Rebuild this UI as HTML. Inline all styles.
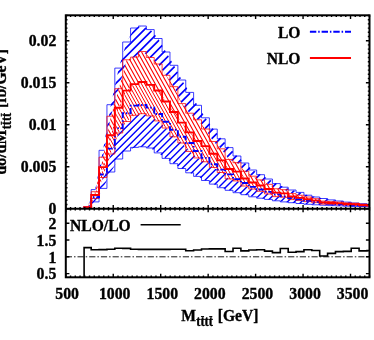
<!DOCTYPE html>
<html><head><meta charset="utf-8"><title>M tttt distribution</title>
<style>html,body{margin:0;padding:0;background:#fff;}svg{display:block;}text{font-family:"Liberation Serif",serif;font-weight:bold;fill:#000;stroke:#000;stroke-width:0.35px;}.tx{filter:grayscale(1);}</style></head><body>
<svg width="374" height="340" viewBox="0 0 374 340">
<rect x="0" y="0" width="374" height="340" fill="#fff"/>
<defs>
<clipPath id="cm"><rect x="65.8" y="15.3" width="303.7" height="193.4"/></clipPath>
<clipPath id="cr"><rect x="65.8" y="208.7" width="303.7" height="68.6"/></clipPath>
<clipPath id="cbl"><path d="M87.24 207.6 L95.12 197.3 L103 174.5 L110.88 148.6 L118.76 128.1 L126.64 113.2 L134.52 105.6 L142.4 105 L150.28 107.6 L158.16 114 L166.04 121.8 L173.92 129.7 L181.8 136.8 L189.68 143 L197.56 151 L205.44 157.9 L213.32 164.2 L221.2 169.6 L229.08 174.4 L236.96 179.1 L244.84 183 L252.72 186.9 L260.6 189.5 L268.48 191.9 L276.36 194.4 L284.24 196.4 L292.12 198 L300 199.3 L307.88 200.9 L315.76 201.9 L323.64 202.7 L331.52 203.5 L339.4 204.1 L347.28 204.7 L355.16 205.2 L363.04 205.6 L370.92 205.9 L370.92 206.8 L363.04 206.6 L355.16 206.4 L347.28 206.2 L339.4 205.9 L331.52 205.6 L323.64 205.2 L315.76 204.8 L307.88 204.3 L300 203.5 L292.12 202.7 L284.24 201.9 L276.36 200.8 L268.48 199.4 L260.6 198.2 L252.72 196.8 L244.84 194.7 L236.96 192.7 L229.08 190.3 L221.2 187.7 L213.32 184.1 L205.44 180.5 L197.56 176.4 L189.68 172.8 L181.8 168.5 L173.92 163.7 L166.04 158.4 L158.16 152.9 L150.28 148 L142.4 146.8 L134.52 147.4 L126.64 151 L118.76 159 L110.88 172 L103 188.4 L95.12 201.9 L87.24 207.8 Z"/></clipPath>
<clipPath id="cbu"><path d="M87.24 207.3 L95.12 189.6 L103 150.3 L110.88 104.7 L118.76 68.1 L126.64 42 L134.52 28 L142.4 26 L150.28 29.6 L158.16 38.5 L166.04 52 L173.92 65.3 L181.8 80 L189.68 92.4 L197.56 105.3 L205.44 117.8 L213.32 129.1 L221.2 138.8 L229.08 147.6 L236.96 156 L244.84 163 L252.72 170 L260.6 174.7 L268.48 179 L276.36 183.6 L284.24 187.2 L292.12 190 L300 192.4 L307.88 195.2 L315.76 197 L323.64 198.5 L331.52 199.9 L339.4 201 L347.28 202.1 L355.16 203 L363.04 203.7 L370.92 204.3 L370.92 205.9 L363.04 205.6 L355.16 205.2 L347.28 204.7 L339.4 204.1 L331.52 203.5 L323.64 202.7 L315.76 201.9 L307.88 200.9 L300 199.3 L292.12 198 L284.24 196.4 L276.36 194.4 L268.48 191.9 L260.6 189.5 L252.72 186.9 L244.84 183 L236.96 179.1 L229.08 174.4 L221.2 169.6 L213.32 164.2 L205.44 157.9 L197.56 151 L189.68 143 L181.8 136.8 L173.92 129.7 L166.04 121.8 L158.16 114 L150.28 107.6 L142.4 105 L134.52 105.6 L126.64 113.2 L118.76 128.1 L110.88 148.6 L103 174.5 L95.12 197.3 L87.24 207.6 Z"/></clipPath>
<clipPath id="cnl"><path d="M87.24 207.3 L95.12 195 L103 167.17 L110.88 135.3 L118.76 107.71 L126.64 90.6 L134.52 84.1 L142.4 82 L150.28 84.9 L158.16 90.5 L166.04 101.5 L173.92 112 L181.8 122.6 L189.68 132.4 L197.56 141 L205.44 146.11 L213.32 153.74 L221.2 160.41 L229.08 168.99 L236.96 171.61 L244.84 178.49 L252.72 182.49 L260.6 185.5 L268.48 189.05 L276.36 192.61 L284.24 193.36 L292.12 196.54 L300 197.85 L307.88 199.28 L315.76 200.62 L323.64 202.56 L331.52 202.97 L339.4 203.39 L347.28 204.06 L355.16 204.3 L363.04 205.06 L370.92 205.38 L370.92 206.21 L363.04 205.97 L355.16 205.4 L347.28 205.22 L339.4 204.72 L331.52 204.41 L323.64 204.09 L315.76 202.64 L307.88 201.63 L300 200.56 L292.12 199.58 L284.24 197.2 L276.36 196.63 L268.48 193.96 L260.6 191.3 L252.72 189.04 L244.84 186.04 L236.96 180.88 L229.08 178.92 L221.2 172.48 L213.32 167.48 L205.44 161.76 L197.56 157.93 L189.68 151.47 L181.8 143 L173.92 136.8 L166.04 128 L158.16 120.9 L150.28 115.85 L142.4 113.67 L134.52 115.3 L126.64 121.5 L118.76 133 L110.88 154 L103 177.55 L95.12 198.43 L87.24 207.65 Z"/></clipPath>
<clipPath id="cnu"><path d="M87.24 206.96 L95.12 191.71 L103 157.2 L110.88 116.2 L118.76 88.7 L126.64 59.8 L134.52 57.1 L142.4 51.5 L150.28 57.5 L158.16 64 L166.04 75.3 L173.92 86.7 L181.8 103.6 L189.68 113.2 L197.56 119.8 L205.44 129 L213.32 141.5 L221.2 148.82 L229.08 159.46 L236.96 162.71 L244.84 171.24 L252.72 176.2 L260.6 179.93 L268.48 184.33 L276.36 188.75 L284.24 189.68 L292.12 193.62 L300 195.24 L307.88 197.01 L315.76 198.69 L323.64 201.08 L331.52 201.6 L339.4 202.11 L347.28 202.94 L355.16 203.25 L363.04 204.18 L370.92 204.59 L370.92 205.38 L363.04 205.06 L355.16 204.3 L347.28 204.06 L339.4 203.39 L331.52 202.97 L323.64 202.56 L315.76 200.62 L307.88 199.28 L300 197.85 L292.12 196.54 L284.24 193.36 L276.36 192.61 L268.48 189.05 L260.6 185.5 L252.72 182.49 L244.84 178.49 L236.96 171.61 L229.08 168.99 L221.2 160.41 L213.32 153.74 L205.44 146.11 L197.56 141 L189.68 132.4 L181.8 122.6 L173.92 112 L166.04 101.5 L158.16 90.5 L150.28 84.9 L142.4 82 L134.52 84.1 L126.64 90.6 L118.76 107.71 L110.88 135.3 L103 167.17 L95.12 195 L87.24 207.3 Z"/></clipPath>
</defs>
<g clip-path="url(#cm)">
<g clip-path="url(#cbl)" stroke="#0000ff" stroke-width="1.4" fill="none"><path d="M52.68 13.3 L-144.72 210.7 M59.62 13.3 L-137.78 210.7 M66.56 13.3 L-130.84 210.7 M73.5 13.3 L-123.9 210.7 M80.44 13.3 L-116.96 210.7 M87.38 13.3 L-110.02 210.7 M94.32 13.3 L-103.08 210.7 M101.26 13.3 L-96.14 210.7 M108.2 13.3 L-89.2 210.7 M115.14 13.3 L-82.26 210.7 M122.08 13.3 L-75.32 210.7 M129.02 13.3 L-68.38 210.7 M135.96 13.3 L-61.44 210.7 M142.9 13.3 L-54.5 210.7 M149.84 13.3 L-47.56 210.7 M156.78 13.3 L-40.62 210.7 M163.72 13.3 L-33.68 210.7 M170.66 13.3 L-26.74 210.7 M177.6 13.3 L-19.8 210.7 M184.54 13.3 L-12.86 210.7 M191.48 13.3 L-5.92 210.7 M198.42 13.3 L1.02 210.7 M205.36 13.3 L7.96 210.7 M212.3 13.3 L14.9 210.7 M219.24 13.3 L21.84 210.7 M226.18 13.3 L28.78 210.7 M233.12 13.3 L35.72 210.7 M240.06 13.3 L42.66 210.7 M247 13.3 L49.6 210.7 M253.94 13.3 L56.54 210.7 M260.88 13.3 L63.48 210.7 M267.82 13.3 L70.42 210.7 M274.76 13.3 L77.36 210.7 M281.7 13.3 L84.3 210.7 M288.64 13.3 L91.24 210.7 M295.58 13.3 L98.18 210.7 M302.52 13.3 L105.12 210.7 M309.46 13.3 L112.06 210.7 M316.4 13.3 L119 210.7 M323.34 13.3 L125.94 210.7 M330.28 13.3 L132.88 210.7 M337.22 13.3 L139.82 210.7 M344.16 13.3 L146.76 210.7 M351.1 13.3 L153.7 210.7 M358.04 13.3 L160.64 210.7 M364.98 13.3 L167.58 210.7 M371.92 13.3 L174.52 210.7 M378.86 13.3 L181.46 210.7 M385.8 13.3 L188.4 210.7 M392.74 13.3 L195.34 210.7 M399.68 13.3 L202.28 210.7 M406.62 13.3 L209.22 210.7 M413.56 13.3 L216.16 210.7 M420.5 13.3 L223.1 210.7 M427.44 13.3 L230.04 210.7 M434.38 13.3 L236.98 210.7 M441.32 13.3 L243.92 210.7 M448.26 13.3 L250.86 210.7 M455.2 13.3 L257.8 210.7 M462.14 13.3 L264.74 210.7 M469.08 13.3 L271.68 210.7 M476.02 13.3 L278.62 210.7 M482.96 13.3 L285.56 210.7 M489.9 13.3 L292.5 210.7 M496.84 13.3 L299.44 210.7 M503.78 13.3 L306.38 210.7 M510.72 13.3 L313.32 210.7 M517.66 13.3 L320.26 210.7 M524.6 13.3 L327.2 210.7 M531.54 13.3 L334.14 210.7 M538.48 13.3 L341.08 210.7 M545.42 13.3 L348.02 210.7 M552.36 13.3 L354.96 210.7 M559.3 13.3 L361.9 210.7 M566.24 13.3 L368.84 210.7 M573.18 13.3 L375.78 210.7 M580.12 13.3 L382.72 210.7"/></g>
<g clip-path="url(#cbu)" stroke="#0000ff" stroke-width="1.7" fill="none"><path d="M51.5 13.3 L-145.9 210.7 M59.9 13.3 L-137.5 210.7 M68.3 13.3 L-129.1 210.7 M76.7 13.3 L-120.7 210.7 M85.1 13.3 L-112.3 210.7 M93.5 13.3 L-103.9 210.7 M101.9 13.3 L-95.5 210.7 M110.3 13.3 L-87.1 210.7 M118.7 13.3 L-78.7 210.7 M127.1 13.3 L-70.3 210.7 M135.5 13.3 L-61.9 210.7 M143.9 13.3 L-53.5 210.7 M152.3 13.3 L-45.1 210.7 M160.7 13.3 L-36.7 210.7 M169.1 13.3 L-28.3 210.7 M177.5 13.3 L-19.9 210.7 M185.9 13.3 L-11.5 210.7 M194.3 13.3 L-3.1 210.7 M202.7 13.3 L5.3 210.7 M211.1 13.3 L13.7 210.7 M219.5 13.3 L22.1 210.7 M227.9 13.3 L30.5 210.7 M236.3 13.3 L38.9 210.7 M244.7 13.3 L47.3 210.7 M253.1 13.3 L55.7 210.7 M261.5 13.3 L64.1 210.7 M269.9 13.3 L72.5 210.7 M278.3 13.3 L80.9 210.7 M286.7 13.3 L89.3 210.7 M295.1 13.3 L97.7 210.7 M303.5 13.3 L106.1 210.7 M311.9 13.3 L114.5 210.7 M320.3 13.3 L122.9 210.7 M328.7 13.3 L131.3 210.7 M337.1 13.3 L139.7 210.7 M345.5 13.3 L148.1 210.7 M353.9 13.3 L156.5 210.7 M362.3 13.3 L164.9 210.7 M370.7 13.3 L173.3 210.7 M379.1 13.3 L181.7 210.7 M387.5 13.3 L190.1 210.7 M395.9 13.3 L198.5 210.7 M404.3 13.3 L206.9 210.7 M412.7 13.3 L215.3 210.7 M421.1 13.3 L223.7 210.7 M429.5 13.3 L232.1 210.7 M437.9 13.3 L240.5 210.7 M446.3 13.3 L248.9 210.7 M454.7 13.3 L257.3 210.7 M463.1 13.3 L265.7 210.7 M471.5 13.3 L274.1 210.7 M479.9 13.3 L282.5 210.7 M488.3 13.3 L290.9 210.7 M496.7 13.3 L299.3 210.7 M505.1 13.3 L307.7 210.7 M513.5 13.3 L316.1 210.7 M521.9 13.3 L324.5 210.7 M530.3 13.3 L332.9 210.7 M538.7 13.3 L341.3 210.7 M547.1 13.3 L349.7 210.7 M555.5 13.3 L358.1 210.7 M563.9 13.3 L366.5 210.7 M572.3 13.3 L374.9 210.7 M580.7 13.3 L383.3 210.7"/></g>
<path d="M83.3 207.3 L91.18 207.3 L91.18 189.6 L99.06 189.6 L99.06 150.3 L106.94 150.3 L106.94 104.7 L114.82 104.7 L114.82 68.1 L122.7 68.1 L122.7 42 L130.58 42 L130.58 28 L138.46 28 L138.46 26 L146.34 26 L146.34 29.6 L154.22 29.6 L154.22 38.5 L162.1 38.5 L162.1 52 L169.98 52 L169.98 65.3 L177.86 65.3 L177.86 80 L185.74 80 L185.74 92.4 L193.62 92.4 L193.62 105.3 L201.5 105.3 L201.5 117.8 L209.38 117.8 L209.38 129.1 L217.26 129.1 L217.26 138.8 L225.14 138.8 L225.14 147.6 L233.02 147.6 L233.02 156 L240.9 156 L240.9 163 L248.78 163 L248.78 170 L256.66 170 L256.66 174.7 L264.54 174.7 L264.54 179 L272.42 179 L272.42 183.6 L280.3 183.6 L280.3 187.2 L288.18 187.2 L288.18 190 L296.06 190 L296.06 192.4 L303.94 192.4 L303.94 195.2 L311.82 195.2 L311.82 197 L319.7 197 L319.7 198.5 L327.58 198.5 L327.58 199.9 L335.46 199.9 L335.46 201 L343.34 201 L343.34 202.1 L351.22 202.1 L351.22 203 L359.1 203 L359.1 203.7 L366.98 203.7 L366.98 204.3 L369.5 204.3 M83.3 207.8 L91.18 207.8 L91.18 201.9 L99.06 201.9 L99.06 188.4 L106.94 188.4 L106.94 172 L114.82 172 L114.82 159 L122.7 159 L122.7 151 L130.58 151 L130.58 147.4 L138.46 147.4 L138.46 146.8 L146.34 146.8 L146.34 148 L154.22 148 L154.22 152.9 L162.1 152.9 L162.1 158.4 L169.98 158.4 L169.98 163.7 L177.86 163.7 L177.86 168.5 L185.74 168.5 L185.74 172.8 L193.62 172.8 L193.62 176.4 L201.5 176.4 L201.5 180.5 L209.38 180.5 L209.38 184.1 L217.26 184.1 L217.26 187.7 L225.14 187.7 L225.14 190.3 L233.02 190.3 L233.02 192.7 L240.9 192.7 L240.9 194.7 L248.78 194.7 L248.78 196.8 L256.66 196.8 L256.66 198.2 L264.54 198.2 L264.54 199.4 L272.42 199.4 L272.42 200.8 L280.3 200.8 L280.3 201.9 L288.18 201.9 L288.18 202.7 L296.06 202.7 L296.06 203.5 L303.94 203.5 L303.94 204.3 L311.82 204.3 L311.82 204.8 L319.7 204.8 L319.7 205.2 L327.58 205.2 L327.58 205.6 L335.46 205.6 L335.46 205.9 L343.34 205.9 L343.34 206.2 L351.22 206.2 L351.22 206.4 L359.1 206.4 L359.1 206.6 L366.98 206.6 L366.98 206.8 L369.5 206.8" fill="none" stroke="#0000ff" stroke-width="0.9" stroke-opacity="0.85"/>
<path d="M87.24 206.96 L95.12 191.71 L103 157.2 L110.88 116.2 L118.76 88.7 L126.64 59.8 L134.52 57.1 L142.4 51.5 L150.28 57.5 L158.16 64 L166.04 75.3 L173.92 86.7 L181.8 103.6 L189.68 113.2 L197.56 119.8 L205.44 129 L213.32 141.5 L221.2 148.82 L229.08 159.46 L236.96 162.71 L244.84 171.24 L252.72 176.2 L260.6 179.93 L268.48 184.33 L276.36 188.75 L284.24 189.68 L292.12 193.62 L300 195.24 L307.88 197.01 L315.76 198.69 L323.64 201.08 L331.52 201.6 L339.4 202.11 L347.28 202.94 L355.16 203.25 L363.04 204.18 L370.92 204.59 L370.92 206.21 L363.04 205.97 L355.16 205.4 L347.28 205.22 L339.4 204.72 L331.52 204.41 L323.64 204.09 L315.76 202.64 L307.88 201.63 L300 200.56 L292.12 199.58 L284.24 197.2 L276.36 196.63 L268.48 193.96 L260.6 191.3 L252.72 189.04 L244.84 186.04 L236.96 180.88 L229.08 178.92 L221.2 172.48 L213.32 167.48 L205.44 161.76 L197.56 157.93 L189.68 151.47 L181.8 143 L173.92 136.8 L166.04 128 L158.16 120.9 L150.28 115.85 L142.4 113.67 L134.52 115.3 L126.64 121.5 L118.76 133 L110.88 154 L103 177.55 L95.12 198.43 L87.24 207.65 Z" fill="#fff"/>
<g clip-path="url(#cnl)" stroke="#ff0000" stroke-width="1.0" fill="none"><path d="M-47.62 13.3 L61.8 210.7 M-44.36 13.3 L65.06 210.7 M-41.1 13.3 L68.32 210.7 M-37.84 13.3 L71.58 210.7 M-34.58 13.3 L74.84 210.7 M-31.32 13.3 L78.1 210.7 M-28.06 13.3 L81.36 210.7 M-24.8 13.3 L84.62 210.7 M-21.54 13.3 L87.88 210.7 M-18.28 13.3 L91.14 210.7 M-15.02 13.3 L94.4 210.7 M-11.76 13.3 L97.66 210.7 M-8.5 13.3 L100.92 210.7 M-5.24 13.3 L104.18 210.7 M-1.98 13.3 L107.44 210.7 M1.28 13.3 L110.7 210.7 M4.54 13.3 L113.96 210.7 M7.8 13.3 L117.22 210.7 M11.06 13.3 L120.48 210.7 M14.32 13.3 L123.74 210.7 M17.58 13.3 L127 210.7 M20.84 13.3 L130.26 210.7 M24.1 13.3 L133.52 210.7 M27.36 13.3 L136.78 210.7 M30.62 13.3 L140.04 210.7 M33.88 13.3 L143.3 210.7 M37.14 13.3 L146.56 210.7 M40.4 13.3 L149.82 210.7 M43.66 13.3 L153.08 210.7 M46.92 13.3 L156.34 210.7 M50.18 13.3 L159.6 210.7 M53.44 13.3 L162.86 210.7 M56.7 13.3 L166.12 210.7 M59.96 13.3 L169.38 210.7 M63.22 13.3 L172.64 210.7 M66.48 13.3 L175.9 210.7 M69.74 13.3 L179.16 210.7 M73 13.3 L182.42 210.7 M76.26 13.3 L185.68 210.7 M79.52 13.3 L188.94 210.7 M82.78 13.3 L192.2 210.7 M86.04 13.3 L195.46 210.7 M89.3 13.3 L198.72 210.7 M92.56 13.3 L201.98 210.7 M95.82 13.3 L205.24 210.7 M99.08 13.3 L208.5 210.7 M102.34 13.3 L211.76 210.7 M105.6 13.3 L215.02 210.7 M108.86 13.3 L218.28 210.7 M112.12 13.3 L221.54 210.7 M115.38 13.3 L224.8 210.7 M118.64 13.3 L228.06 210.7 M121.9 13.3 L231.32 210.7 M125.16 13.3 L234.58 210.7 M128.42 13.3 L237.84 210.7 M131.68 13.3 L241.1 210.7 M134.94 13.3 L244.36 210.7 M138.2 13.3 L247.62 210.7 M141.46 13.3 L250.88 210.7 M144.72 13.3 L254.14 210.7 M147.98 13.3 L257.4 210.7 M151.24 13.3 L260.66 210.7 M154.5 13.3 L263.92 210.7 M157.76 13.3 L267.18 210.7 M161.02 13.3 L270.44 210.7 M164.28 13.3 L273.7 210.7 M167.54 13.3 L276.96 210.7 M170.8 13.3 L280.22 210.7 M174.06 13.3 L283.48 210.7 M177.32 13.3 L286.74 210.7 M180.58 13.3 L290 210.7 M183.84 13.3 L293.26 210.7 M187.1 13.3 L296.52 210.7 M190.36 13.3 L299.78 210.7 M193.62 13.3 L303.04 210.7 M196.88 13.3 L306.3 210.7 M200.14 13.3 L309.56 210.7 M203.4 13.3 L312.82 210.7 M206.66 13.3 L316.08 210.7 M209.92 13.3 L319.34 210.7 M213.18 13.3 L322.6 210.7 M216.44 13.3 L325.86 210.7 M219.7 13.3 L329.12 210.7 M222.96 13.3 L332.38 210.7 M226.22 13.3 L335.64 210.7 M229.48 13.3 L338.9 210.7 M232.74 13.3 L342.16 210.7 M236 13.3 L345.42 210.7 M239.26 13.3 L348.68 210.7 M242.52 13.3 L351.94 210.7 M245.78 13.3 L355.2 210.7 M249.04 13.3 L358.46 210.7 M252.3 13.3 L361.72 210.7 M255.56 13.3 L364.98 210.7 M258.82 13.3 L368.24 210.7 M262.08 13.3 L371.5 210.7 M265.34 13.3 L374.76 210.7 M268.6 13.3 L378.02 210.7 M271.86 13.3 L381.28 210.7 M275.12 13.3 L384.54 210.7 M278.38 13.3 L387.8 210.7 M281.64 13.3 L391.06 210.7 M284.9 13.3 L394.32 210.7 M288.16 13.3 L397.58 210.7 M291.42 13.3 L400.84 210.7 M294.68 13.3 L404.1 210.7 M297.94 13.3 L407.36 210.7 M301.2 13.3 L410.62 210.7 M304.46 13.3 L413.88 210.7 M307.72 13.3 L417.14 210.7 M310.98 13.3 L420.4 210.7 M314.24 13.3 L423.66 210.7 M317.5 13.3 L426.92 210.7 M320.76 13.3 L430.18 210.7 M324.02 13.3 L433.44 210.7 M327.28 13.3 L436.7 210.7 M330.54 13.3 L439.96 210.7 M333.8 13.3 L443.22 210.7 M337.06 13.3 L446.48 210.7 M340.32 13.3 L449.74 210.7 M343.58 13.3 L453 210.7 M346.84 13.3 L456.26 210.7 M350.1 13.3 L459.52 210.7 M353.36 13.3 L462.78 210.7 M356.62 13.3 L466.04 210.7 M359.88 13.3 L469.3 210.7 M363.14 13.3 L472.56 210.7 M366.4 13.3 L475.82 210.7 M369.66 13.3 L479.08 210.7 M372.92 13.3 L482.34 210.7"/></g>
<g clip-path="url(#cnu)" stroke="#ff0000" stroke-width="1.1" fill="none"><path d="M-48.7 13.3 L60.72 210.7 M-44.68 13.3 L64.74 210.7 M-40.66 13.3 L68.76 210.7 M-36.64 13.3 L72.78 210.7 M-32.62 13.3 L76.8 210.7 M-28.6 13.3 L80.82 210.7 M-24.58 13.3 L84.84 210.7 M-20.56 13.3 L88.86 210.7 M-16.54 13.3 L92.88 210.7 M-12.52 13.3 L96.9 210.7 M-8.5 13.3 L100.92 210.7 M-4.48 13.3 L104.94 210.7 M-0.46 13.3 L108.96 210.7 M3.56 13.3 L112.98 210.7 M7.58 13.3 L117 210.7 M11.6 13.3 L121.02 210.7 M15.62 13.3 L125.04 210.7 M19.64 13.3 L129.06 210.7 M23.66 13.3 L133.08 210.7 M27.68 13.3 L137.1 210.7 M31.7 13.3 L141.12 210.7 M35.72 13.3 L145.14 210.7 M39.74 13.3 L149.16 210.7 M43.76 13.3 L153.18 210.7 M47.78 13.3 L157.2 210.7 M51.8 13.3 L161.22 210.7 M55.82 13.3 L165.24 210.7 M59.84 13.3 L169.26 210.7 M63.86 13.3 L173.28 210.7 M67.88 13.3 L177.3 210.7 M71.9 13.3 L181.32 210.7 M75.92 13.3 L185.34 210.7 M79.94 13.3 L189.36 210.7 M83.96 13.3 L193.38 210.7 M87.98 13.3 L197.4 210.7 M92 13.3 L201.42 210.7 M96.02 13.3 L205.44 210.7 M100.04 13.3 L209.46 210.7 M104.06 13.3 L213.48 210.7 M108.08 13.3 L217.5 210.7 M112.1 13.3 L221.52 210.7 M116.12 13.3 L225.54 210.7 M120.14 13.3 L229.56 210.7 M124.16 13.3 L233.58 210.7 M128.18 13.3 L237.6 210.7 M132.2 13.3 L241.62 210.7 M136.22 13.3 L245.64 210.7 M140.24 13.3 L249.66 210.7 M144.26 13.3 L253.68 210.7 M148.28 13.3 L257.7 210.7 M152.3 13.3 L261.72 210.7 M156.32 13.3 L265.74 210.7 M160.34 13.3 L269.76 210.7 M164.36 13.3 L273.78 210.7 M168.38 13.3 L277.8 210.7 M172.4 13.3 L281.82 210.7 M176.42 13.3 L285.84 210.7 M180.44 13.3 L289.86 210.7 M184.46 13.3 L293.88 210.7 M188.48 13.3 L297.9 210.7 M192.5 13.3 L301.92 210.7 M196.52 13.3 L305.94 210.7 M200.54 13.3 L309.96 210.7 M204.56 13.3 L313.98 210.7 M208.58 13.3 L318 210.7 M212.6 13.3 L322.02 210.7 M216.62 13.3 L326.04 210.7 M220.64 13.3 L330.06 210.7 M224.66 13.3 L334.08 210.7 M228.68 13.3 L338.1 210.7 M232.7 13.3 L342.12 210.7 M236.72 13.3 L346.14 210.7 M240.74 13.3 L350.16 210.7 M244.76 13.3 L354.18 210.7 M248.78 13.3 L358.2 210.7 M252.8 13.3 L362.22 210.7 M256.82 13.3 L366.24 210.7 M260.84 13.3 L370.26 210.7 M264.86 13.3 L374.28 210.7 M268.88 13.3 L378.3 210.7 M272.9 13.3 L382.32 210.7 M276.92 13.3 L386.34 210.7 M280.94 13.3 L390.36 210.7 M284.96 13.3 L394.38 210.7 M288.98 13.3 L398.4 210.7 M293 13.3 L402.42 210.7 M297.02 13.3 L406.44 210.7 M301.04 13.3 L410.46 210.7 M305.06 13.3 L414.48 210.7 M309.08 13.3 L418.5 210.7 M313.1 13.3 L422.52 210.7 M317.12 13.3 L426.54 210.7 M321.14 13.3 L430.56 210.7 M325.16 13.3 L434.58 210.7 M329.18 13.3 L438.6 210.7 M333.2 13.3 L442.62 210.7 M337.22 13.3 L446.64 210.7 M341.24 13.3 L450.66 210.7 M345.26 13.3 L454.68 210.7 M349.28 13.3 L458.7 210.7 M353.3 13.3 L462.72 210.7 M357.32 13.3 L466.74 210.7 M361.34 13.3 L470.76 210.7 M365.36 13.3 L474.78 210.7 M369.38 13.3 L478.8 210.7 M373.4 13.3 L482.82 210.7 M377.42 13.3 L486.84 210.7"/></g>
<path d="M83.3 206.96 L91.18 206.96 L91.18 191.71 L99.06 191.71 L99.06 157.2 L106.94 157.2 L106.94 116.2 L114.82 116.2 L114.82 88.7 L122.7 88.7 L122.7 59.8 L130.58 59.8 L130.58 57.1 L138.46 57.1 L138.46 51.5 L146.34 51.5 L146.34 57.5 L154.22 57.5 L154.22 64 L162.1 64 L162.1 75.3 L169.98 75.3 L169.98 86.7 L177.86 86.7 L177.86 103.6 L185.74 103.6 L185.74 113.2 L193.62 113.2 L193.62 119.8 L201.5 119.8 L201.5 129 L209.38 129 L209.38 141.5 L217.26 141.5 L217.26 148.82 L225.14 148.82 L225.14 159.46 L233.02 159.46 L233.02 162.71 L240.9 162.71 L240.9 171.24 L248.78 171.24 L248.78 176.2 L256.66 176.2 L256.66 179.93 L264.54 179.93 L264.54 184.33 L272.42 184.33 L272.42 188.75 L280.3 188.75 L280.3 189.68 L288.18 189.68 L288.18 193.62 L296.06 193.62 L296.06 195.24 L303.94 195.24 L303.94 197.01 L311.82 197.01 L311.82 198.69 L319.7 198.69 L319.7 201.08 L327.58 201.08 L327.58 201.6 L335.46 201.6 L335.46 202.11 L343.34 202.11 L343.34 202.94 L351.22 202.94 L351.22 203.25 L359.1 203.25 L359.1 204.18 L366.98 204.18 L366.98 204.59 L369.5 204.59 M83.3 207.65 L91.18 207.65 L91.18 198.43 L99.06 198.43 L99.06 177.55 L106.94 177.55 L106.94 154 L114.82 154 L114.82 133 L122.7 133 L122.7 121.5 L130.58 121.5 L130.58 115.3 L138.46 115.3 L138.46 113.67 L146.34 113.67 L146.34 115.85 L154.22 115.85 L154.22 120.9 L162.1 120.9 L162.1 128 L169.98 128 L169.98 136.8 L177.86 136.8 L177.86 143 L185.74 143 L185.74 151.47 L193.62 151.47 L193.62 157.93 L201.5 157.93 L201.5 161.76 L209.38 161.76 L209.38 167.48 L217.26 167.48 L217.26 172.48 L225.14 172.48 L225.14 178.92 L233.02 178.92 L233.02 180.88 L240.9 180.88 L240.9 186.04 L248.78 186.04 L248.78 189.04 L256.66 189.04 L256.66 191.3 L264.54 191.3 L264.54 193.96 L272.42 193.96 L272.42 196.63 L280.3 196.63 L280.3 197.2 L288.18 197.2 L288.18 199.58 L296.06 199.58 L296.06 200.56 L303.94 200.56 L303.94 201.63 L311.82 201.63 L311.82 202.64 L319.7 202.64 L319.7 204.09 L327.58 204.09 L327.58 204.41 L335.46 204.41 L335.46 204.72 L343.34 204.72 L343.34 205.22 L351.22 205.22 L351.22 205.4 L359.1 205.4 L359.1 205.97 L366.98 205.97 L366.98 206.21 L369.5 206.21" fill="none" stroke="#ff0000" stroke-width="0.9" stroke-opacity="0.85"/>
<path d="M83.3 207.6 L91.18 207.6 L91.18 197.3 L99.06 197.3 L99.06 174.5 L106.94 174.5 L106.94 148.6 L114.82 148.6 L114.82 128.1 L122.7 128.1 L122.7 113.2 L130.58 113.2 L130.58 105.6 L138.46 105.6 L138.46 105 L146.34 105 L146.34 107.6 L154.22 107.6 L154.22 114 L162.1 114 L162.1 121.8 L169.98 121.8 L169.98 129.7 L177.86 129.7 L177.86 136.8 L185.74 136.8 L185.74 143 L193.62 143 L193.62 151 L201.5 151 L201.5 157.9 L209.38 157.9 L209.38 164.2 L217.26 164.2 L217.26 169.6 L225.14 169.6 L225.14 174.4 L233.02 174.4 L233.02 179.1 L240.9 179.1 L240.9 183 L248.78 183 L248.78 186.9 L256.66 186.9 L256.66 189.5 L264.54 189.5 L264.54 191.9 L272.42 191.9 L272.42 194.4 L280.3 194.4 L280.3 196.4 L288.18 196.4 L288.18 198 L296.06 198 L296.06 199.3 L303.94 199.3 L303.94 200.9 L311.82 200.9 L311.82 201.9 L319.7 201.9 L319.7 202.7 L327.58 202.7 L327.58 203.5 L335.46 203.5 L335.46 204.1 L343.34 204.1 L343.34 204.7 L351.22 204.7 L351.22 205.2 L359.1 205.2 L359.1 205.6 L366.98 205.6 L366.98 205.9 L369.5 205.9" fill="none" stroke="#0000ff" stroke-width="1.9" stroke-dasharray="6.4 1.9 1.5 1.9"/>
<path d="M83.3 207.3 L91.18 207.3 L91.18 195 L99.06 195 L99.06 167.17 L106.94 167.17 L106.94 135.3 L114.82 135.3 L114.82 107.71 L122.7 107.71 L122.7 90.6 L130.58 90.6 L130.58 84.1 L138.46 84.1 L138.46 82 L146.34 82 L146.34 84.9 L154.22 84.9 L154.22 90.5 L162.1 90.5 L162.1 101.5 L169.98 101.5 L169.98 112 L177.86 112 L177.86 122.6 L185.74 122.6 L185.74 132.4 L193.62 132.4 L193.62 141 L201.5 141 L201.5 146.11 L209.38 146.11 L209.38 153.74 L217.26 153.74 L217.26 160.41 L225.14 160.41 L225.14 168.99 L233.02 168.99 L233.02 171.61 L240.9 171.61 L240.9 178.49 L248.78 178.49 L248.78 182.49 L256.66 182.49 L256.66 185.5 L264.54 185.5 L264.54 189.05 L272.42 189.05 L272.42 192.61 L280.3 192.61 L280.3 193.36 L288.18 193.36 L288.18 196.54 L296.06 196.54 L296.06 197.85 L303.94 197.85 L303.94 199.28 L311.82 199.28 L311.82 200.62 L319.7 200.62 L319.7 202.56 L327.58 202.56 L327.58 202.97 L335.46 202.97 L335.46 203.39 L343.34 203.39 L343.34 204.06 L351.22 204.06 L351.22 204.3 L359.1 204.3 L359.1 205.06 L366.98 205.06 L366.98 205.38 L369.5 205.38" fill="none" stroke="#ff0000" stroke-width="1.9" stroke-linejoin="miter"/>
</g>
<g clip-path="url(#cr)">
<path d="M65.8 256.8 L369.5 256.8" stroke="#000" stroke-width="0.9" stroke-dasharray="6.2 2 1.5 2" fill="none"/>
<path d="M84.1 277.3 L84.1 247.6 L91.18 247.6 L91.18 249.7 L99.06 249.7 L99.06 249.6 L106.94 249.6 L106.94 249.3 L114.82 249.3 L114.82 248.3 L122.7 248.3 L122.7 248.4 L130.58 248.4 L130.58 249.3 L138.46 249.3 L138.46 249.4 L146.34 249.4 L146.34 249.4 L154.22 249.4 L154.22 249.4 L162.1 249.4 L162.1 249.4 L169.98 249.4 L169.98 249.3 L177.86 249.3 L177.86 249.3 L185.74 249.3 L185.74 250.7 L193.62 250.7 L193.62 250 L201.5 250 L201.5 249 L209.38 249 L209.38 248.9 L217.26 248.9 L217.26 248.9 L225.14 248.9 L225.14 251.5 L233.02 251.5 L233.02 248.3 L240.9 248.3 L240.9 250.9 L248.78 250.9 L248.78 250 L256.66 250 L256.66 249.8 L264.54 249.8 L264.54 251.1 L272.42 251.1 L272.42 252.6 L280.3 252.6 L280.3 248.5 L288.18 248.5 L288.18 252.2 L296.06 252.2 L296.06 251.6 L303.94 251.6 L303.94 249.8 L311.82 249.8 L311.82 250.5 L319.7 250.5 L319.7 256 L327.58 256 L327.58 253.4 L335.46 253.4 L335.46 251.6 L343.34 251.6 L343.34 251.4 L351.22 251.4 L351.22 248.2 L359.1 248.2 L359.1 250.9 L366.98 250.9 L366.98 250.6 L369.5 250.6" fill="none" stroke="#000" stroke-width="1.6" stroke-linejoin="miter"/>
</g>
<g stroke="#000" fill="none">
<rect x="65.8" y="15.3" width="303.7" height="262" stroke-width="2"/>
<path d="M65.8 208.7 L369.5 208.7" stroke-width="2"/>
<path d="M65.8 15.3 v3.6 M65.8 208.7 v-3.6 M65.8 208.7 v3.6 M65.8 277.3 v-3.6 M70.55 15.3 v1.7 M70.55 208.7 v-1.7 M70.55 208.7 v1.7 M70.55 277.3 v-1.7 M75.29 15.3 v1.7 M75.29 208.7 v-1.7 M75.29 208.7 v1.7 M75.29 277.3 v-1.7 M80.04 15.3 v1.7 M80.04 208.7 v-1.7 M80.04 208.7 v1.7 M80.04 277.3 v-1.7 M84.78 15.3 v1.7 M84.78 208.7 v-1.7 M84.78 208.7 v1.7 M84.78 277.3 v-1.7 M89.53 15.3 v1.7 M89.53 208.7 v-1.7 M89.53 208.7 v1.7 M89.53 277.3 v-1.7 M94.27 15.3 v1.7 M94.27 208.7 v-1.7 M94.27 208.7 v1.7 M94.27 277.3 v-1.7 M99.02 15.3 v1.7 M99.02 208.7 v-1.7 M99.02 208.7 v1.7 M99.02 277.3 v-1.7 M103.76 15.3 v1.7 M103.76 208.7 v-1.7 M103.76 208.7 v1.7 M103.76 277.3 v-1.7 M108.51 15.3 v1.7 M108.51 208.7 v-1.7 M108.51 208.7 v1.7 M108.51 277.3 v-1.7 M113.25 15.3 v3.6 M113.25 208.7 v-3.6 M113.25 208.7 v3.6 M113.25 277.3 v-3.6 M118 15.3 v1.7 M118 208.7 v-1.7 M118 208.7 v1.7 M118 277.3 v-1.7 M122.74 15.3 v1.7 M122.74 208.7 v-1.7 M122.74 208.7 v1.7 M122.74 277.3 v-1.7 M127.49 15.3 v1.7 M127.49 208.7 v-1.7 M127.49 208.7 v1.7 M127.49 277.3 v-1.7 M132.23 15.3 v1.7 M132.23 208.7 v-1.7 M132.23 208.7 v1.7 M132.23 277.3 v-1.7 M136.98 15.3 v1.7 M136.98 208.7 v-1.7 M136.98 208.7 v1.7 M136.98 277.3 v-1.7 M141.72 15.3 v1.7 M141.72 208.7 v-1.7 M141.72 208.7 v1.7 M141.72 277.3 v-1.7 M146.47 15.3 v1.7 M146.47 208.7 v-1.7 M146.47 208.7 v1.7 M146.47 277.3 v-1.7 M151.22 15.3 v1.7 M151.22 208.7 v-1.7 M151.22 208.7 v1.7 M151.22 277.3 v-1.7 M155.96 15.3 v1.7 M155.96 208.7 v-1.7 M155.96 208.7 v1.7 M155.96 277.3 v-1.7 M160.71 15.3 v3.6 M160.71 208.7 v-3.6 M160.71 208.7 v3.6 M160.71 277.3 v-3.6 M165.45 15.3 v1.7 M165.45 208.7 v-1.7 M165.45 208.7 v1.7 M165.45 277.3 v-1.7 M170.2 15.3 v1.7 M170.2 208.7 v-1.7 M170.2 208.7 v1.7 M170.2 277.3 v-1.7 M174.94 15.3 v1.7 M174.94 208.7 v-1.7 M174.94 208.7 v1.7 M174.94 277.3 v-1.7 M179.69 15.3 v1.7 M179.69 208.7 v-1.7 M179.69 208.7 v1.7 M179.69 277.3 v-1.7 M184.43 15.3 v1.7 M184.43 208.7 v-1.7 M184.43 208.7 v1.7 M184.43 277.3 v-1.7 M189.18 15.3 v1.7 M189.18 208.7 v-1.7 M189.18 208.7 v1.7 M189.18 277.3 v-1.7 M193.92 15.3 v1.7 M193.92 208.7 v-1.7 M193.92 208.7 v1.7 M193.92 277.3 v-1.7 M198.67 15.3 v1.7 M198.67 208.7 v-1.7 M198.67 208.7 v1.7 M198.67 277.3 v-1.7 M203.41 15.3 v1.7 M203.41 208.7 v-1.7 M203.41 208.7 v1.7 M203.41 277.3 v-1.7 M208.16 15.3 v3.6 M208.16 208.7 v-3.6 M208.16 208.7 v3.6 M208.16 277.3 v-3.6 M212.9 15.3 v1.7 M212.9 208.7 v-1.7 M212.9 208.7 v1.7 M212.9 277.3 v-1.7 M217.65 15.3 v1.7 M217.65 208.7 v-1.7 M217.65 208.7 v1.7 M217.65 277.3 v-1.7 M222.4 15.3 v1.7 M222.4 208.7 v-1.7 M222.4 208.7 v1.7 M222.4 277.3 v-1.7 M227.14 15.3 v1.7 M227.14 208.7 v-1.7 M227.14 208.7 v1.7 M227.14 277.3 v-1.7 M231.89 15.3 v1.7 M231.89 208.7 v-1.7 M231.89 208.7 v1.7 M231.89 277.3 v-1.7 M236.63 15.3 v1.7 M236.63 208.7 v-1.7 M236.63 208.7 v1.7 M236.63 277.3 v-1.7 M241.38 15.3 v1.7 M241.38 208.7 v-1.7 M241.38 208.7 v1.7 M241.38 277.3 v-1.7 M246.12 15.3 v1.7 M246.12 208.7 v-1.7 M246.12 208.7 v1.7 M246.12 277.3 v-1.7 M250.87 15.3 v1.7 M250.87 208.7 v-1.7 M250.87 208.7 v1.7 M250.87 277.3 v-1.7 M255.61 15.3 v3.6 M255.61 208.7 v-3.6 M255.61 208.7 v3.6 M255.61 277.3 v-3.6 M260.36 15.3 v1.7 M260.36 208.7 v-1.7 M260.36 208.7 v1.7 M260.36 277.3 v-1.7 M265.1 15.3 v1.7 M265.1 208.7 v-1.7 M265.1 208.7 v1.7 M265.1 277.3 v-1.7 M269.85 15.3 v1.7 M269.85 208.7 v-1.7 M269.85 208.7 v1.7 M269.85 277.3 v-1.7 M274.59 15.3 v1.7 M274.59 208.7 v-1.7 M274.59 208.7 v1.7 M274.59 277.3 v-1.7 M279.34 15.3 v1.7 M279.34 208.7 v-1.7 M279.34 208.7 v1.7 M279.34 277.3 v-1.7 M284.08 15.3 v1.7 M284.08 208.7 v-1.7 M284.08 208.7 v1.7 M284.08 277.3 v-1.7 M288.83 15.3 v1.7 M288.83 208.7 v-1.7 M288.83 208.7 v1.7 M288.83 277.3 v-1.7 M293.57 15.3 v1.7 M293.57 208.7 v-1.7 M293.57 208.7 v1.7 M293.57 277.3 v-1.7 M298.32 15.3 v1.7 M298.32 208.7 v-1.7 M298.32 208.7 v1.7 M298.32 277.3 v-1.7 M303.07 15.3 v3.6 M303.07 208.7 v-3.6 M303.07 208.7 v3.6 M303.07 277.3 v-3.6 M307.81 15.3 v1.7 M307.81 208.7 v-1.7 M307.81 208.7 v1.7 M307.81 277.3 v-1.7 M312.56 15.3 v1.7 M312.56 208.7 v-1.7 M312.56 208.7 v1.7 M312.56 277.3 v-1.7 M317.3 15.3 v1.7 M317.3 208.7 v-1.7 M317.3 208.7 v1.7 M317.3 277.3 v-1.7 M322.05 15.3 v1.7 M322.05 208.7 v-1.7 M322.05 208.7 v1.7 M322.05 277.3 v-1.7 M326.79 15.3 v1.7 M326.79 208.7 v-1.7 M326.79 208.7 v1.7 M326.79 277.3 v-1.7 M331.54 15.3 v1.7 M331.54 208.7 v-1.7 M331.54 208.7 v1.7 M331.54 277.3 v-1.7 M336.28 15.3 v1.7 M336.28 208.7 v-1.7 M336.28 208.7 v1.7 M336.28 277.3 v-1.7 M341.03 15.3 v1.7 M341.03 208.7 v-1.7 M341.03 208.7 v1.7 M341.03 277.3 v-1.7 M345.77 15.3 v1.7 M345.77 208.7 v-1.7 M345.77 208.7 v1.7 M345.77 277.3 v-1.7 M350.52 15.3 v3.6 M350.52 208.7 v-3.6 M350.52 208.7 v3.6 M350.52 277.3 v-3.6 M355.26 15.3 v1.7 M355.26 208.7 v-1.7 M355.26 208.7 v1.7 M355.26 277.3 v-1.7 M360.01 15.3 v1.7 M360.01 208.7 v-1.7 M360.01 208.7 v1.7 M360.01 277.3 v-1.7 M364.75 15.3 v1.7 M364.75 208.7 v-1.7 M364.75 208.7 v1.7 M364.75 277.3 v-1.7 M369.5 15.3 v1.7 M369.5 208.7 v-1.7 M369.5 208.7 v1.7 M369.5 277.3 v-1.7 M65.8 208.7 h3.6 M369.5 208.7 h-3.6 M65.8 204.5 h1.7 M369.5 204.5 h-1.7 M65.8 200.3 h1.7 M369.5 200.3 h-1.7 M65.8 196.1 h1.7 M369.5 196.1 h-1.7 M65.8 191.9 h1.7 M369.5 191.9 h-1.7 M65.8 187.7 h1.7 M369.5 187.7 h-1.7 M65.8 183.5 h1.7 M369.5 183.5 h-1.7 M65.8 179.3 h1.7 M369.5 179.3 h-1.7 M65.8 175.1 h1.7 M369.5 175.1 h-1.7 M65.8 170.9 h1.7 M369.5 170.9 h-1.7 M65.8 166.7 h3.6 M369.5 166.7 h-3.6 M65.8 162.5 h1.7 M369.5 162.5 h-1.7 M65.8 158.3 h1.7 M369.5 158.3 h-1.7 M65.8 154.1 h1.7 M369.5 154.1 h-1.7 M65.8 149.9 h1.7 M369.5 149.9 h-1.7 M65.8 145.7 h1.7 M369.5 145.7 h-1.7 M65.8 141.5 h1.7 M369.5 141.5 h-1.7 M65.8 137.3 h1.7 M369.5 137.3 h-1.7 M65.8 133.1 h1.7 M369.5 133.1 h-1.7 M65.8 128.9 h1.7 M369.5 128.9 h-1.7 M65.8 124.7 h3.6 M369.5 124.7 h-3.6 M65.8 120.5 h1.7 M369.5 120.5 h-1.7 M65.8 116.3 h1.7 M369.5 116.3 h-1.7 M65.8 112.1 h1.7 M369.5 112.1 h-1.7 M65.8 107.9 h1.7 M369.5 107.9 h-1.7 M65.8 103.7 h1.7 M369.5 103.7 h-1.7 M65.8 99.5 h1.7 M369.5 99.5 h-1.7 M65.8 95.3 h1.7 M369.5 95.3 h-1.7 M65.8 91.1 h1.7 M369.5 91.1 h-1.7 M65.8 86.9 h1.7 M369.5 86.9 h-1.7 M65.8 82.7 h3.6 M369.5 82.7 h-3.6 M65.8 78.5 h1.7 M369.5 78.5 h-1.7 M65.8 74.3 h1.7 M369.5 74.3 h-1.7 M65.8 70.1 h1.7 M369.5 70.1 h-1.7 M65.8 65.9 h1.7 M369.5 65.9 h-1.7 M65.8 61.7 h1.7 M369.5 61.7 h-1.7 M65.8 57.5 h1.7 M369.5 57.5 h-1.7 M65.8 53.3 h1.7 M369.5 53.3 h-1.7 M65.8 49.1 h1.7 M369.5 49.1 h-1.7 M65.8 44.9 h1.7 M369.5 44.9 h-1.7 M65.8 40.7 h3.6 M369.5 40.7 h-3.6 M65.8 36.5 h1.7 M369.5 36.5 h-1.7 M65.8 32.3 h1.7 M369.5 32.3 h-1.7 M65.8 28.1 h1.7 M369.5 28.1 h-1.7 M65.8 23.9 h1.7 M369.5 23.9 h-1.7 M65.8 19.7 h1.7 M369.5 19.7 h-1.7 M65.8 15.5 h1.7 M369.5 15.5 h-1.7 M65.8 273.6 h3.6 M369.5 273.6 h-3.6 M65.8 256.8 h3.6 M369.5 256.8 h-3.6 M65.8 240 h3.6 M369.5 240 h-3.6 M65.8 223.2 h3.6 M369.5 223.2 h-3.6" stroke-width="1.4"/>
</g>
<path d="M309.9 31.8 H351" stroke="#0000ff" stroke-width="1.9" stroke-dasharray="6.4 1.9 1.5 1.9" fill="none"/>
<path d="M309.9 58 H351" stroke="#ff0000" stroke-width="1.9" fill="none"/>
<path d="M140.6 224.8 H180.7" stroke="#000" stroke-width="1.4" fill="none"/>
<g class="tx">
<text transform="translate(56.3 46.18) scale(1 1.1)" font-size="15.8" text-anchor="end">0.02</text>
<text transform="translate(56.3 88.18) scale(1 1.1)" font-size="15.8" text-anchor="end">0.015</text>
<text transform="translate(56.3 130.18) scale(1 1.1)" font-size="15.8" text-anchor="end">0.01</text>
<text transform="translate(56.3 172.18) scale(1 1.1)" font-size="15.8" text-anchor="end">0.005</text>
<text transform="translate(56.3 214.18) scale(1 1.1)" font-size="15.8" text-anchor="end">0</text>
<text transform="translate(56.3 228.98) scale(1 1.1)" font-size="15.8" text-anchor="end">2</text>
<text transform="translate(56.3 245.78) scale(1 1.1)" font-size="15.8" text-anchor="end">1.5</text>
<text transform="translate(56.3 262.58) scale(1 1.1)" font-size="15.8" text-anchor="end">1</text>
<text transform="translate(56.3 279.38) scale(1 1.1)" font-size="15.8" text-anchor="end">0.5</text>
<text transform="translate(67.1 298.7) scale(1 1.1)" font-size="15.8" text-anchor="middle">500</text>
<text transform="translate(114.68 298.7) scale(1 1.1)" font-size="15.8" text-anchor="middle">1000</text>
<text transform="translate(162.27 298.7) scale(1 1.1)" font-size="15.8" text-anchor="middle">1500</text>
<text transform="translate(209.85 298.7) scale(1 1.1)" font-size="15.8" text-anchor="middle">2000</text>
<text transform="translate(257.43 298.7) scale(1 1.1)" font-size="15.8" text-anchor="middle">2500</text>
<text transform="translate(305.02 298.7) scale(1 1.1)" font-size="15.8" text-anchor="middle">3000</text>
<text transform="translate(352.6 298.7) scale(1 1.1)" font-size="15.8" text-anchor="middle">3500</text>
<text transform="translate(300.4 63.8) scale(1 1.1)" font-size="15.6" text-anchor="end">NLO</text>
<text transform="translate(300.4 37.6) scale(1 1.1)" font-size="15.6" text-anchor="end">LO</text>
<text transform="translate(70.1 231) scale(1 1.1)" font-size="15.6" text-anchor="start">NLO/LO</text>
<g transform="translate(181.2 321.3)"><text transform="translate(0 0) scale(1 1.1)" font-size="15.6" text-anchor="start">M</text><text transform="translate(15.13 4.6) scale(1 1.1)" font-size="12.4" text-anchor="start">tttt</text><path d="M19.76 -4.68 h3.1" stroke="#000" stroke-width="1.1" fill="none"/><path d="M28.01 -4.68 h3.1" stroke="#000" stroke-width="1.1" fill="none"/><text transform="translate(36.54 0) scale(1 1.1)" font-size="15.6" text-anchor="start">[GeV]</text></g>
<g transform="translate(6.0 174.6) rotate(-90)"><text transform="translate(0 0) scale(1 1.1)" font-size="15.6" text-anchor="start">dσ/d</text><text transform="translate(30.17 0) scale(1 1.1)" font-size="15.6" text-anchor="start">M</text><text transform="translate(45.3 4.6) scale(1 1.1)" font-size="12.4" text-anchor="start">tttt</text><path d="M49.93 -4.68 h3.1" stroke="#000" stroke-width="1.1" fill="none"/><path d="M58.18 -4.68 h3.1" stroke="#000" stroke-width="1.1" fill="none"/><text transform="translate(66.71 0) scale(1 1.1)" font-size="15.6" text-anchor="start">[fb/GeV]</text></g>
</g>
</svg>
</body></html>
